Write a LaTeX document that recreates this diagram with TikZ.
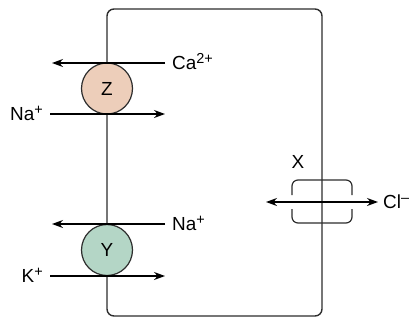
\documentclass[tikz,border=0pt]{standalone}
\usepackage{fontspec}
\setmainfont{Liberation Sans}
\usepackage{tikz}
\usetikzlibrary{arrows.meta, positioning}
\usepackage{xcolor}
\definecolor{zfill}{RGB}{237,206,186}
\definecolor{yfill}{RGB}{180,214,198}
\definecolor{lineclr}{RGB}{45,45,45}
\newcommand{\ionfont}{\fontsize{19}{22}\selectfont}
\newcommand{\charge}[1]{\raisebox{6bp}{\fontsize{14.5}{16}\selectfont #1}}

\begin{document}
\begin{tikzpicture}[x=1bp, y=-1bp, node distance=6bp,
  membrane/.style={draw=lineclr, line width=1.4bp, rounded corners=7bp},
  pump/.style={circle, draw=lineclr, line width=1.2bp, minimum size=51bp,
               inner sep=0pt, font=\ionfont},
  ion/.style={font=\ionfont, text height=13.6bp, text depth=0pt,
              inner ysep=0pt, inner xsep=1bp},
  flux/.style={-{Stealth[length=11bp, width=8bp]}, line width=1.2bp}]

  \useasboundingbox (0,0) rectangle (409,320);

  % cell
  \draw[membrane] (107,9) rectangle (322,316);

  % pumps on the left membrane
  \node[pump, fill=zfill] (z) at (107,88.5) {Z};
  \node[pump, fill=yfill] (y) at (107,250)  {Y};

  % arrow ends
  \coordinate (zcain)  at (165,63);
  \coordinate (zcaout) at (52,63);
  \coordinate (znain)  at (50,114);
  \coordinate (znaout) at (165,114);
  \coordinate (ynain)  at (165,224);
  \coordinate (ynaout) at (52,224);
  \coordinate (ykin)   at (50,276);
  \coordinate (ykout)  at (165,276);
  \coordinate (xleft)  at (266,202);
  \coordinate (xright) at (378,202);

  % ion labels
  \node[ion, right=of zcain] (ca)  {Ca\charge{2+}};
  \node[ion, left=of znain]  (nal) {Na\charge{+}};
  \node[ion, right=of ynain] (nar) {Na\charge{+}};
  \node[ion, left=of ykin]   (k)   {K\charge{+}};
  \node[ion, right=4bp of xright] (cl) {Cl\charge{–}};

  \draw[flux] (zcain) -- (zcaout);
  \draw[flux] (znain) -- (znaout);
  \draw[flux] (ynain) -- (ynaout);
  \draw[flux] (ykin)  -- (ykout);

  % channel X on the right membrane
  \draw[draw=lineclr, line width=1.2bp, rounded corners=6bp]
    (292,195) -- (292,180) -- (352,180) -- (352,195);
  \draw[draw=lineclr, line width=1.2bp, rounded corners=6bp]
    (292,209) -- (292,223) -- (352,223) -- (352,209);
  \node[ion] (x) at (298,162) {X};
  \draw[{Stealth[length=11bp, width=8bp]}-{Stealth[length=11bp, width=8bp]},
        line width=1.2bp] (xleft) -- (xright);
\end{tikzpicture}
\end{document}
